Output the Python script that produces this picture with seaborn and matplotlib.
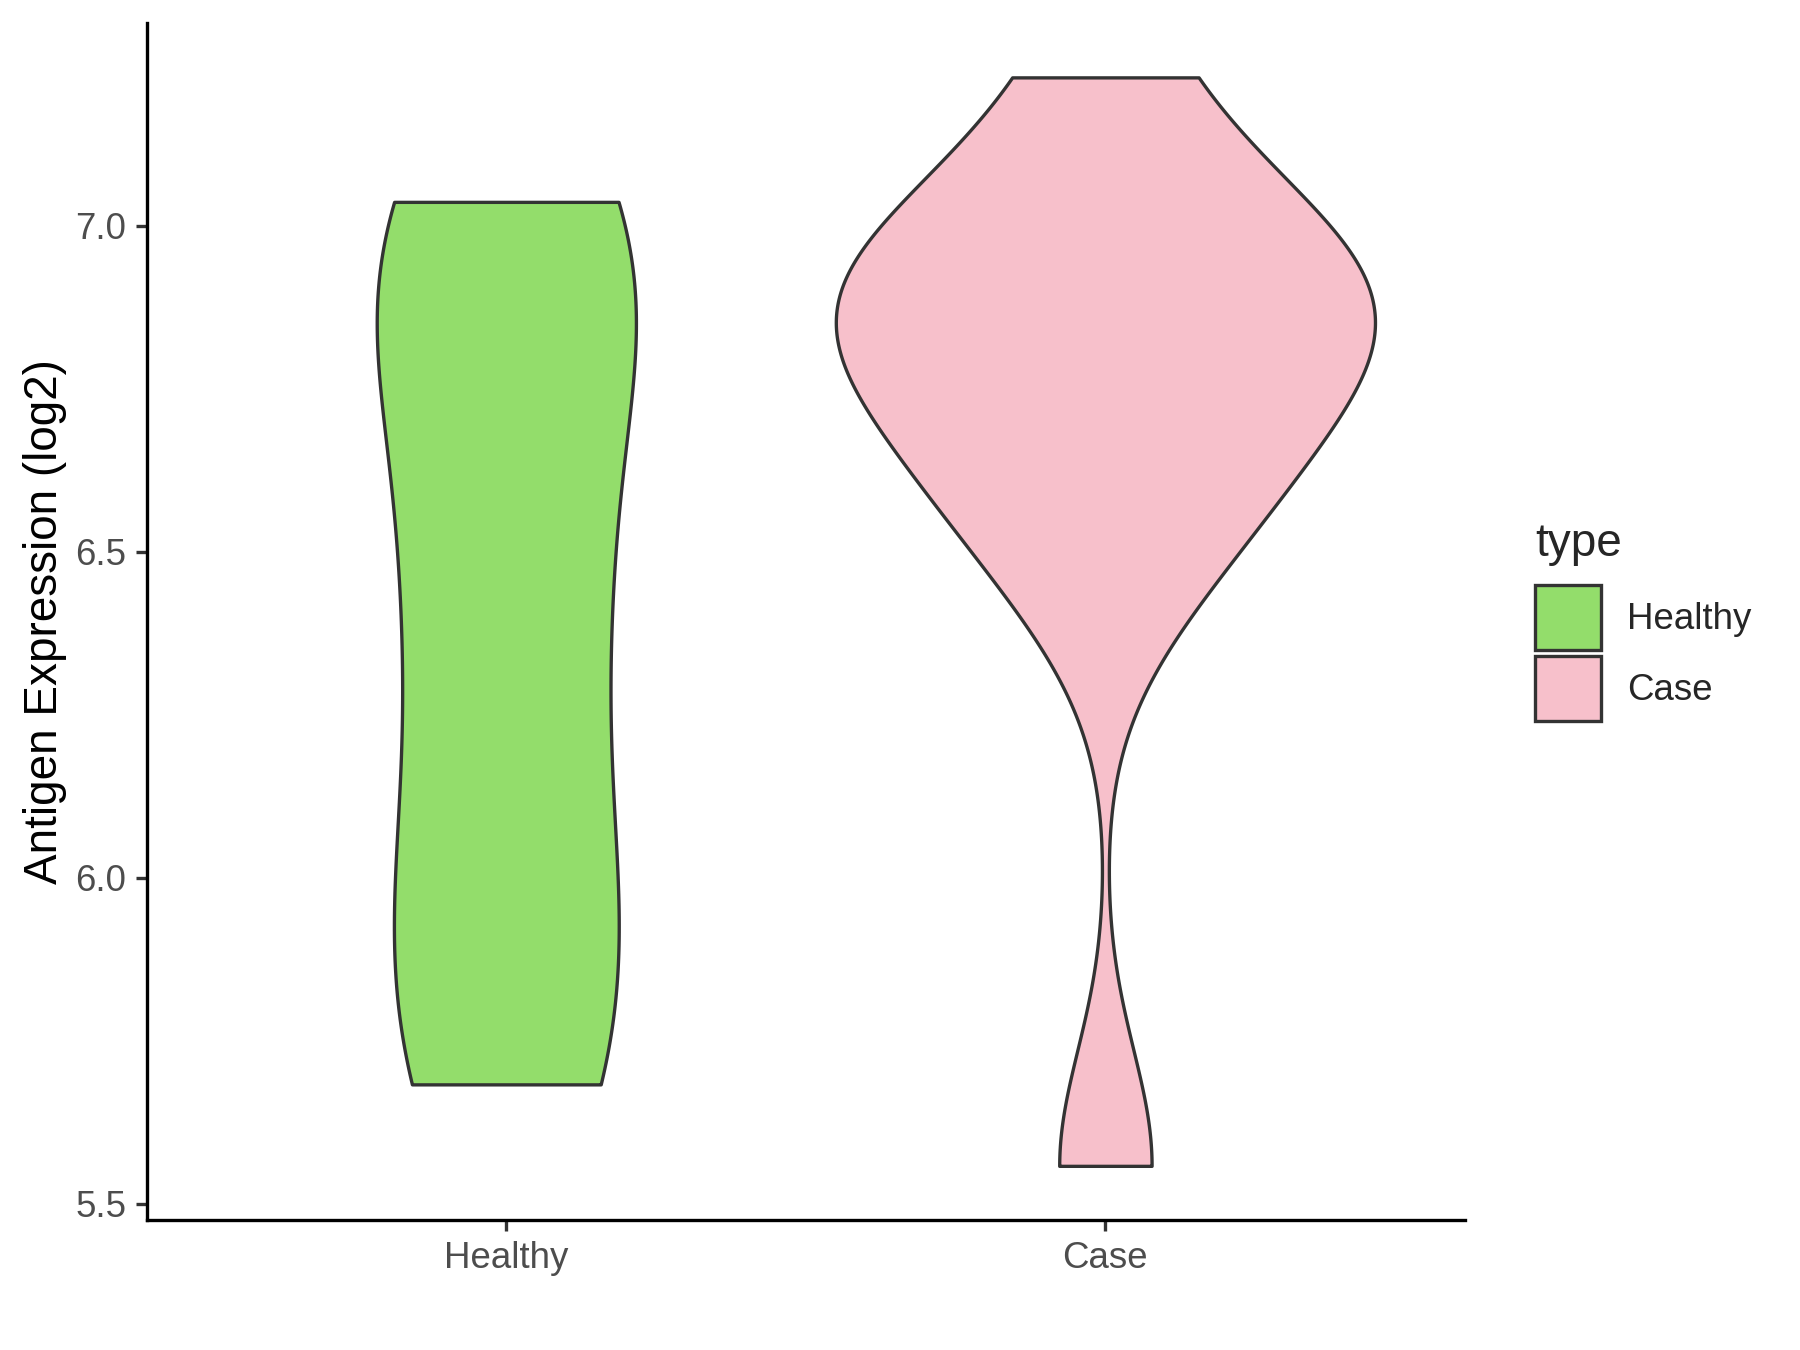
import numpy as np
import pandas as pd
import matplotlib
matplotlib.use("Agg")
import matplotlib.pyplot as plt
from matplotlib.patches import Patch
import seaborn as sns

# groups in plotting order + fill colours
groups = ["Healthy", "Case"]
palette = {"Healthy": "#93DD6B", "Case": "#F7C0CB"}

# antigen expression (log2) per sample
healthy_vals = [5.683, 6.01, 6.42, 6.81, 7.037]
case_vals = [5.558, 6.48, 6.59, 6.70, 6.80, 6.87, 6.91, 6.94, 6.97, 7.228]

y_ticks = [5.5, 6.0, 6.5, 7.0]
y_tick_labels = ["5.5", "6.0", "6.5", "7.0"]

df = pd.DataFrame({
    "type": ["Healthy"] * len(healthy_vals) + ["Case"] * len(case_vals),
    "value": healthy_vals + case_vals,
})

sns.set_theme(style="ticks")
plt.rcParams["font.family"] = ["Liberation Sans", "DejaVu Sans"]

fig = plt.figure(figsize=(6, 4.5), dpi=300)
ax = fig.add_axes([0.0816, 0.0961, 0.7322, 0.8869])

sns.violinplot(
    data=df, x="type", y="value", hue="type",
    order=groups, hue_order=groups, palette=palette,
    inner=None, cut=0, width=0.9, density_norm="area", common_norm=True,
    bw_method="scott", bw_adjust=0.62, gridsize=512,
    linewidth=0.8, linecolor="#333333", saturation=1,
    legend=False, ax=ax,
)

# ggplot-like expansion of the y range (5% each side)
all_vals = np.array(healthy_vals + case_vals)
pad = 0.05 * (all_vals.max() - all_vals.min())
ax.set_ylim(all_vals.min() - pad, all_vals.max() + pad)
ax.set_xlim(-0.6, 1.6)

ax.set_yticks(y_ticks)
ax.set_yticklabels(y_tick_labels)
ax.set_xlabel("")
ax.set_ylabel("Antigen Expression (log2)", fontsize=11, color="black", labelpad=2.0)

for side in ["top", "right"]:
    ax.spines[side].set_visible(False)
for side in ["left", "bottom"]:
    ax.spines[side].set_color("black")
    ax.spines[side].set_linewidth(0.8)

ax.tick_params(axis="both", direction="out", length=2.75, width=0.8,
               color="#333333", labelsize=8.8, labelcolor="#4D4D4D", pad=2.2)

handles = [Patch(facecolor=palette[g], edgecolor="#333333", linewidth=0.8, label=g)
           for g in groups]
leg = fig.legend(handles=handles, title="type", loc="upper left",
                 bbox_to_anchor=(0.853, 0.613), frameon=False,
                 fontsize=8.8, title_fontsize=11, handlelength=1.8, handleheight=2.35,
                 handletextpad=0.7, labelspacing=0.17, borderpad=0, borderaxespad=0,
                 alignment="left")
# a bit more room between the title and the keys, as in ggplot
leg._legend_box.sep = 4.5

fig.savefig("out.png", dpi=300)
plt.close(fig)
